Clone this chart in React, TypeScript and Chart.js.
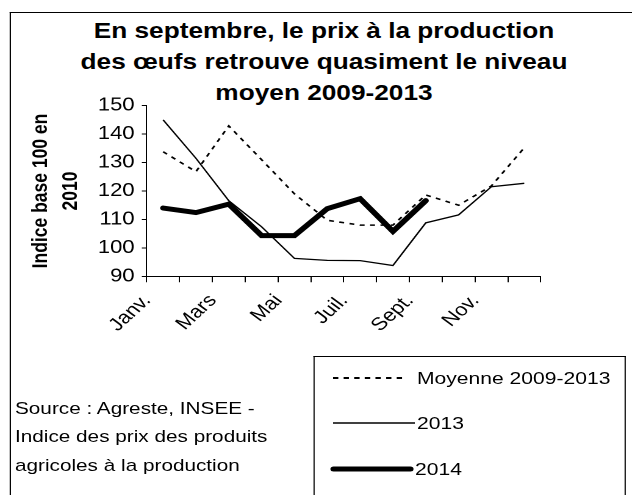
import React, { useEffect, useRef } from 'react';
import { Chart, registerables } from 'chart.js';

Chart.register(...registerables);

// ---- data ----
const MONTHS = ['Janv.', 'Févr.', 'Mars', 'Avr.', 'Mai', 'Juin', 'Juil.', 'Août', 'Sept.', 'Oct.', 'Nov.', 'Déc.'];
const MOYENNE_2009_2013 = [133.8, 126.8, 142.9, 131, 119, 109.7, 108, 108, 118.6, 115, 121.8, 135.2];
const SERIES_2013 = [145, 131.5, 116.6, 107.4, 96.3, 95.6, 95.5, 93.8, 108.8, 111.6, 121.5, 122.7];
const SERIES_2014 = [114, 112.4, 115.4, 104.3, 104.3, 113.8, 117.3, 105.8, 116.6, null, null, null];
const Y_MIN = 90;
const Y_MAX = 150;
const Y_STEP = 10;
const TITLE_LINES = [
  'En septembre, le prix à la production',
  'des œufs retrouve quasiment le niveau',
  'moyen 2009-2013',
];
const Y_TITLE = ['Indice base 100 en', '2010'];
const LEGEND_LABELS = ['Moyenne 2009-2013', '2013', '2014'];
const SOURCE_LINES = ['Source : Agreste, INSEE -', 'Indice des prix des produits', 'agricoles à la production'];

// ---- layout ----
const S = 1.22; // horizontal stretch of the original figure
const LW = 632 / S;
const X = (a: number) => a / S;
const FONT = "'Liberation Sans', Arial, Helvetica, sans-serif";
const CH = 360;

export default function App() {
  const canvasRef = useRef<HTMLCanvasElement | null>(null);

  useEffect(() => {
    const canvas = canvasRef.current;
    if (!canvas) return;
    const chart = new Chart(canvas, {
      type: 'line',
      data: {
        labels: MONTHS,
        datasets: [
          {
            label: LEGEND_LABELS[2],
            data: SERIES_2014,
            borderColor: '#000',
            borderWidth: 5,
            borderCapStyle: 'round',
            pointRadius: 0,
            tension: 0,
            fill: false,
          },
          {
            label: LEGEND_LABELS[1],
            data: SERIES_2013,
            borderColor: '#000',
            borderWidth: 1.3,
            pointRadius: 0,
            tension: 0,
            fill: false,
          },
          {
            label: LEGEND_LABELS[0],
            data: MOYENNE_2009_2013,
            borderColor: '#000',
            borderWidth: 1.6,
            borderDash: [4, 4.5],
            pointRadius: 0,
            tension: 0,
            fill: false,
          },
        ],
      },
      options: {
        animation: false,
        responsive: true,
        maintainAspectRatio: false,
        devicePixelRatio: 2,
        layout: {
          padding: { left: 0, top: 105.7, right: LW - X(540.7), bottom: CH - 276.3 - 60 },
        },
        plugins: {
          legend: { display: false },
          tooltip: { enabled: false },
          title: { display: false },
        },
        scales: {
          x: {
            type: 'category',
            offset: true,
            grid: { offset: true, drawOnChartArea: false, drawTicks: true, tickLength: 6, color: '#000', lineWidth: 1 },
            border: { display: true, color: '#000', width: 1 },
            ticks: {
              autoSkip: false,
              maxRotation: 48,
              minRotation: 48,
              color: '#000',
              font: { family: FONT, size: 18 },
              padding: 8,
              labelOffset: -13,
              callback: (_v: any, i: number) => (i % 2 === 0 ? MONTHS[i] : ''),
            },
            afterFit: (s: any) => {
              s.height = 60;
            },
          },
          y: {
            min: Y_MIN,
            max: Y_MAX,
            ticks: { stepSize: Y_STEP, color: '#000', font: { family: FONT, size: 18 }, padding: 6 },
            grid: { drawOnChartArea: false, drawTicks: true, tickLength: 4, color: '#000' },
            border: { display: true, color: '#000', width: 1 },
            title: {
              display: true,
              text: Y_TITLE,
              color: '#000',
              font: { family: FONT, size: 17.5, weight: 'bold', lineHeight: 1.4 },
              padding: { top: 21.5, bottom: 0 },
            },
            afterFit: (s: any) => {
              s.width = X(146.7);
            },
          },
        },
      },
    } as any);
    return () => chart.destroy();
  }, []);

  const legendY = [378, 423, 469];

  return (
    <>
      <style>{`html,body{overflow:hidden;}`}</style>
      <div
        style={{
          position: 'absolute',
          left: 0,
          top: 0,
          width: LW,
          height: 495,
          overflow: 'hidden',
          transform: `scaleX(${S})`,
          transformOrigin: '0 0',
          background: '#fff',
          fontFamily: FONT,
          color: '#000',
        }}
      >
        {/* outer frame */}
        <div
          style={{
            position: 'absolute',
            left: X(10),
            top: 12,
            width: 700,
            height: 700,
            borderLeft: '1px solid #000',
            borderTop: '1px solid #000',
          }}
        />
        {/* title */}
        <div
          style={{
            position: 'absolute',
            left: X(324) - 270,
            top: 16,
            width: 540,
            textAlign: 'center',
            fontWeight: 'bold',
            fontSize: 21.5,
            lineHeight: '31px',
            whiteSpace: 'nowrap',
          }}
        >
          {TITLE_LINES.map((t, i) => (
            <div key={i}>{t}</div>
          ))}
        </div>
        {/* chart */}
        <div style={{ position: 'absolute', left: 0, top: 0, width: LW, height: CH }}>
          <canvas ref={canvasRef} />
        </div>
        {/* legend box */}
        <div
          style={{
            position: 'absolute',
            left: X(313),
            top: 356,
            width: X(626) - X(313),
            height: 300,
            borderLeft: '1px solid #000',
            borderTop: '1px solid #000',
            borderRight: '1px solid #000',
            boxSizing: 'border-box',
          }}
        />
        <svg style={{ position: 'absolute', left: 0, top: 0 }} width={LW} height={495}>
          <line x1={X(333)} x2={X(407)} y1={legendY[0]} y2={legendY[0]} stroke="#000" strokeWidth={2} strokeDasharray="4.4 4.3" />
          <line x1={X(333)} x2={X(415)} y1={legendY[1]} y2={legendY[1]} stroke="#000" strokeWidth={1.3} />
          <line x1={X(333.5)} x2={X(410.5)} y1={legendY[2]} y2={legendY[2]} stroke="#000" strokeWidth={5} strokeLinecap="round" />
        </svg>
        {LEGEND_LABELS.map((t, i) => (
          <div
            key={t}
            style={{
              position: 'absolute',
              left: X(i === 2 ? 415 : 417),
              top: legendY[i] - 10,
              fontSize: 17.3,
              lineHeight: '20px',
              whiteSpace: 'nowrap',
            }}
          >
            {t}
          </div>
        ))}
        {/* source */}
        <div
          style={{
            position: 'absolute',
            left: X(15),
            top: 409 - 14.25,
            fontSize: 17,
            lineHeight: '28.5px',
            whiteSpace: 'nowrap',
          }}
        >
          {SOURCE_LINES.map((t, i) => (
            <div key={i}>{t}</div>
          ))}
        </div>
      </div>
    </>
  );
}
